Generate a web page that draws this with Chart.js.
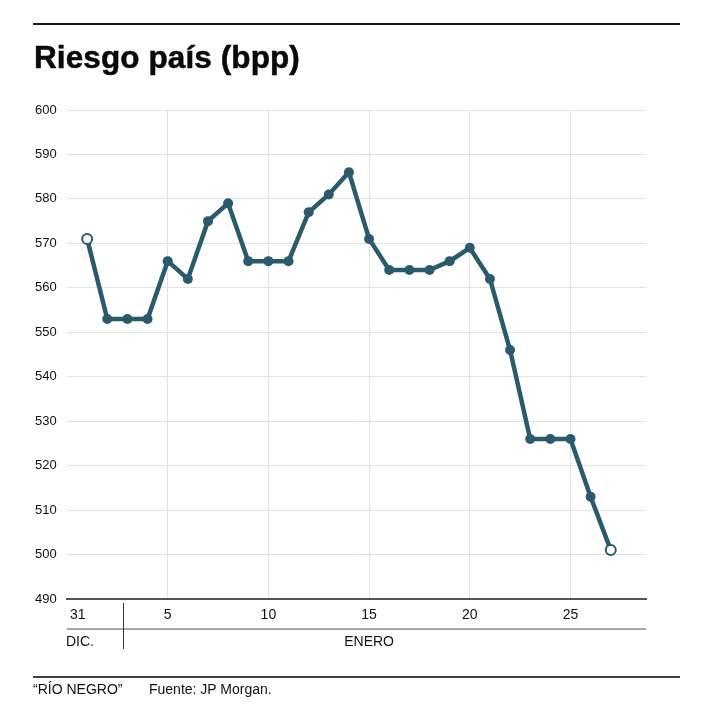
<!DOCTYPE html>
<html>
<head>
<meta charset="utf-8">
<script src="https://cdn.jsdelivr.net/npm/chart.js@4.4.1/dist/chart.umd.min.js"></script>
<style>
  html, body { margin:0; padding:0; background:#fff; }
  body { width:713px; height:719px; position:relative; overflow:hidden; font-family:"Liberation Sans", Arial, sans-serif; color:#111; }
  #topRule { position:absolute; left:33px; top:23px; width:647px; height:2px; background:#1a1a1a; }
  #title { position:absolute; left:34px; top:37px; font-size:31.5px; font-weight:bold; line-height:40px; letter-spacing:0.1px; color:#0a0a0a; -webkit-text-stroke:0.5px #0a0a0a; }
  #bottomRule { position:absolute; left:33px; top:676px; width:647px; height:2px; background:#444; }
  .foot { position:absolute; top:680px; font-size:14px; line-height:18px; color:#111; }
  #wrap { position:absolute; left:0; top:0; width:713px; height:719px; }
</style>
</head>
<body>
<div id="wrap"><canvas id="c"></canvas></div>
<div id="topRule"></div>
<div id="title">Riesgo país (bpp)</div>
<div id="bottomRule"></div>
<div class="foot" style="left:33px">“RÍO NEGRO”</div>
<div class="foot" style="left:149px">Fuente: JP Morgan.</div>
<script>
const days = ['31','2','3','4','5','6','7','8','9','10','11','12','13','14','15','16','17','18','19','20','21','22','23','24','25','26','27'];
const riesgo = [571,553,553,553,566,562,575,579,566,566,566,577,581,586,571,564,564,564,566,569,562,546,526,526,526,513,501];
const tickIndex = [0,4,9,14,19,24];
const tickLabels = ['31','5','10','15','20','25'];
const yTicks = [490,500,510,520,530,540,550,560,570,580,590,600];
const months = ['DIC.','ENERO'];

const lineColor = '#2b5a6c';
const lastIdx = riesgo.length - 1;

const xLabelsPlugin = {
  id: 'xLabels',
  afterDraw(chart) {
    const ctx = chart.ctx;
    const xs = chart.scales.x;
    const area = chart.chartArea;
    ctx.save();
    ctx.fillStyle = '#111';
    ctx.font = '14px "Liberation Sans", Arial, sans-serif';
    ctx.textBaseline = 'middle';
    tickIndex.forEach((v, i) => {
      const px = xs.getPixelForValue(v);
      if (i === 0) { ctx.textAlign = 'left'; ctx.fillText(tickLabels[i], area.left + 3, 615); }
      else { ctx.textAlign = 'center'; ctx.fillText(tickLabels[i], px, 615); }
    });
    ctx.textAlign = 'left';
    ctx.fillText(months[0], area.left - 1, 642);
    ctx.textAlign = 'center';
    ctx.fillText(months[1], xs.getPixelForValue(14), 642);
    ctx.strokeStyle = '#8a8a8a';
    ctx.lineWidth = 1.5;
    ctx.beginPath();
    ctx.moveTo(area.left, 629);
    ctx.lineTo(area.right, 629);
    ctx.stroke();
    ctx.strokeStyle = '#333';
    ctx.lineWidth = 1;
    ctx.beginPath();
    ctx.moveTo(123.5, 603);
    ctx.lineTo(123.5, 649);
    ctx.stroke();
    ctx.restore();
  }
};

new Chart(document.getElementById('c'), {
  type: 'line',
  data: {
    labels: days,
    datasets: [{
      data: riesgo.map((v, i) => ({ x: i, y: v })),
      borderColor: lineColor,
      borderWidth: 4.5,
      pointRadius: 5,
      pointHoverRadius: 5,
      pointBorderWidth: (c) => (c.dataIndex === 0 || c.dataIndex === lastIdx) ? 2 : 0,
      pointBorderColor: lineColor,
      pointBackgroundColor: (c) => (c.dataIndex === 0 || c.dataIndex === lastIdx) ? '#ffffff' : lineColor,
      tension: 0,
      fill: false
    }]
  },
  options: {
    responsive: true,
    maintainAspectRatio: false,
    animation: false,
    events: [],
    layout: { padding: { left: 35, top: 110, right: 67, bottom: 120 } },
    plugins: { legend: { display: false }, tooltip: { enabled: false }, title: { display: false } },
    scales: {
      x: {
        type: 'linear',
        min: -1,
        max: 27.75,
        afterBuildTicks: (s) => { s.ticks = tickIndex.map(v => ({ value: v })); },
        afterFit: (s) => { s.height = 0; },
        ticks: { display: false },
        grid: {
          color: (c) => (c.tick && c.tick.value === 0) ? 'rgba(0,0,0,0)' : '#e2e2e2',
          lineWidth: 1,
          drawTicks: false
        },
        border: { display: true, color: '#555', width: 2 }
      },
      y: {
        min: 490,
        max: 600,
        afterBuildTicks: (s) => { s.ticks = yTicks.map(v => ({ value: v })); },
        afterFit: (s) => { s.width = 32; },
        ticks: {
          crossAlign: 'far',
          padding: 0,
          color: '#111',
          font: { family: '"Liberation Sans", Arial, sans-serif', size: 13 }
        },
        grid: { color: '#e2e2e2', lineWidth: 1, drawTicks: false },
        border: { display: false }
      }
    }
  },
  plugins: [xLabelsPlugin]
});
</script>
</body>
</html>
